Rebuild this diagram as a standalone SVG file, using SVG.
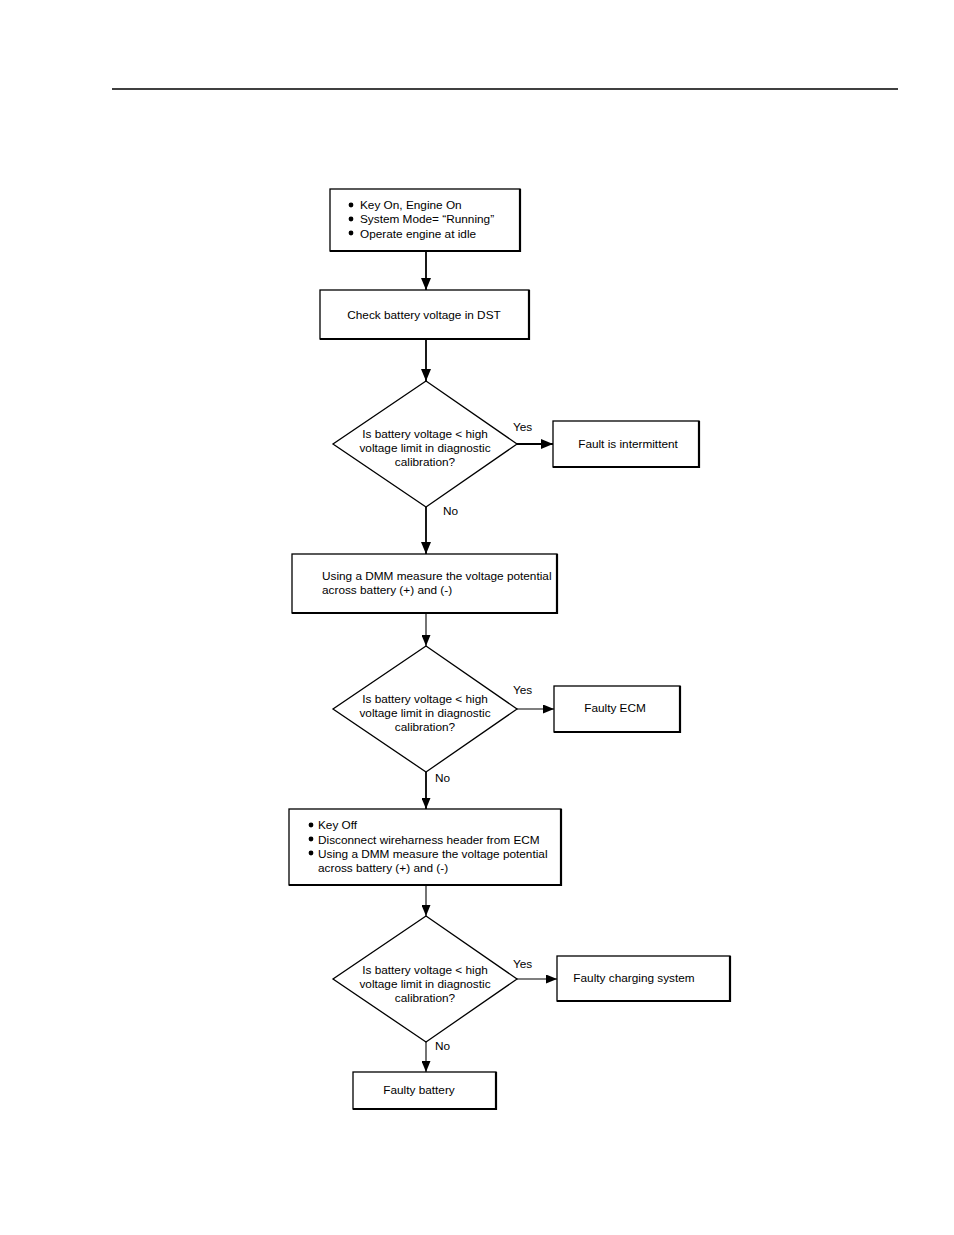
<svg xmlns="http://www.w3.org/2000/svg" width="954" height="1235" viewBox="0 0 954 1235">
<style>
text{font-family:"Liberation Sans",Arial,sans-serif;font-size:11.8px;fill:#000}
.c{text-anchor:middle}
.box{fill:#fff;stroke:#000;stroke-width:1.3}
.sh{fill:none;stroke:#000;stroke-width:2.2}
.dia{fill:#fff;stroke:#000;stroke-width:1.3}
.ln{fill:none;stroke:#000;stroke-width:1.8}
.tn{fill:none;stroke:#000;stroke-width:1.1}
</style>
<defs>
<marker id="ah" markerWidth="12" markerHeight="10" refX="12" refY="5" orient="auto" markerUnits="userSpaceOnUse"><path d="M0,0L12,5L0,10Z" fill="#000"/></marker>
<marker id="as" markerWidth="11" markerHeight="9" refX="11" refY="4.5" orient="auto" markerUnits="userSpaceOnUse"><path d="M0,0L11,4.5L0,9Z" fill="#000"/></marker>
</defs>
<rect width="954" height="1235" fill="#fff"/>
<line x1="112" y1="89" x2="898" y2="89" stroke="#000" stroke-width="1.3"/>

<g id="connectors">
<line class="ln" x1="426" y1="251" x2="426" y2="290" marker-end="url(#ah)"/>
<line class="ln" x1="426" y1="339" x2="426" y2="381" marker-end="url(#ah)"/>
<line class="ln" x1="517" y1="444" x2="553" y2="444" marker-end="url(#ah)"/>
<line class="ln" x1="426" y1="507" x2="426" y2="554" marker-end="url(#ah)"/>
<line class="tn" x1="426" y1="613" x2="426" y2="646" marker-end="url(#as)"/>
<line class="tn" x1="517" y1="709" x2="554" y2="709" marker-end="url(#as)"/>
<line class="ln" x1="426" y1="772" x2="426" y2="809" marker-end="url(#as)"/>
<line class="tn" x1="426" y1="885" x2="426" y2="916" marker-end="url(#as)"/>
<line class="tn" x1="517" y1="979" x2="557" y2="979" marker-end="url(#as)"/>
<line class="tn" x1="426" y1="1042" x2="426" y2="1072" marker-end="url(#as)"/>
<text x="513" y="431">Yes</text>
<text x="443" y="515">No</text>
<text x="513" y="694">Yes</text>
<text x="435" y="782">No</text>
<text x="513" y="968">Yes</text>
<text x="435" y="1050">No</text>
</g>

<g id="n1">
<rect class="box" x="330" y="189" width="190" height="62"/>
<path class="sh" d="M520,189V251H330"/>
<circle cx="351" cy="205" r="2.4"/><circle cx="351" cy="219" r="2.4"/><circle cx="351" cy="233" r="2.4"/>
<text x="360" y="209">Key On, Engine On</text>
<text x="360" y="223">System Mode= “Running”</text>
<text x="360" y="238">Operate engine at idle</text>
</g>

<g id="n2">
<rect class="box" x="320" y="290" width="209" height="49"/>
<path class="sh" d="M529,290V339H320"/>
<text class="c" x="424" y="319">Check battery voltage in DST</text>
</g>

<g id="d1">
<polygon class="dia" points="426,381 517,444 426,507 333,444"/>
<text class="c" x="425" y="438">Is battery voltage &lt; high</text>
<text class="c" x="425" y="452">voltage limit in diagnostic</text>
<text class="c" x="425" y="466">calibration?</text>
</g>

<g id="n3">
<rect class="box" x="553" y="421" width="146" height="46"/>
<path class="sh" d="M699,421V467H553"/>
<text class="c" x="628" y="448">Fault is intermittent</text>
</g>

<g id="n4">
<rect class="box" x="292" y="554" width="265" height="59"/>
<path class="sh" d="M557,554V613H292"/>
<text x="322" y="580">Using a DMM measure the voltage potential</text>
<text x="322" y="594">across battery (+) and (-)</text>
</g>

<g id="d2">
<polygon class="dia" points="426,646 517,709 426,772 333,709"/>
<text class="c" x="425" y="703">Is battery voltage &lt; high</text>
<text class="c" x="425" y="717">voltage limit in diagnostic</text>
<text class="c" x="425" y="731">calibration?</text>
</g>

<g id="n5">
<rect class="box" x="554" y="686" width="126" height="46"/>
<path class="sh" d="M680,686V732H554"/>
<text class="c" x="615" y="712">Faulty ECM</text>
</g>

<g id="n6">
<rect class="box" x="289" y="809" width="272" height="76"/>
<path class="sh" d="M561,809V885H289"/>
<circle cx="311" cy="825" r="2.4"/><circle cx="311" cy="839" r="2.4"/><circle cx="311" cy="853" r="2.4"/>
<text x="318" y="829">Key Off</text>
<text x="318" y="844">Disconnect wireharness header from ECM</text>
<text x="318" y="858">Using a DMM measure the voltage potential</text>
<text x="318" y="872">across battery (+) and (-)</text>
</g>

<g id="d3">
<polygon class="dia" points="426,916 517,979 426,1042 333,979"/>
<text class="c" x="425" y="974">Is battery voltage &lt; high</text>
<text class="c" x="425" y="988">voltage limit in diagnostic</text>
<text class="c" x="425" y="1002">calibration?</text>
</g>

<g id="n7">
<rect class="box" x="557" y="956" width="173" height="45"/>
<path class="sh" d="M730,956V1001H557"/>
<text class="c" x="634" y="982">Faulty charging system</text>
</g>

<g id="n8">
<rect class="box" x="353" y="1072" width="143" height="37"/>
<path class="sh" d="M496,1072V1109H353"/>
<text class="c" x="419" y="1094">Faulty battery</text>
</g>
</svg>
